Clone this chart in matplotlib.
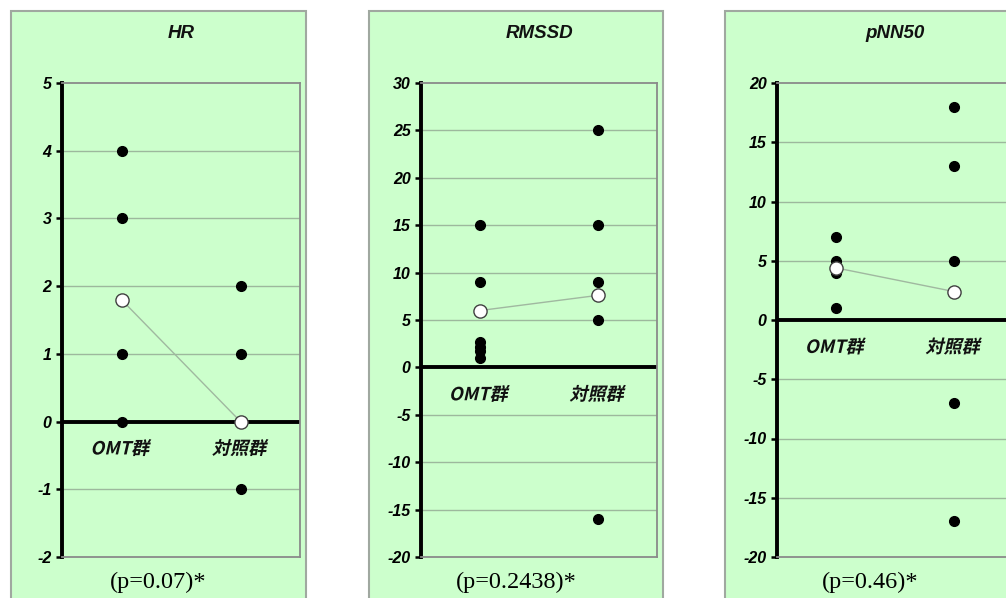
import matplotlib
matplotlib.use("Agg")
import matplotlib.pyplot as plt
from matplotlib.patches import Rectangle, PathPatch
from matplotlib.textpath import TextPath
from matplotlib.font_manager import FontProperties
from matplotlib.transforms import Affine2D, ScaledTranslation

categories = ["OMT群", "対照群"]
titles = ["HR", "RMSSD", "pNN50"]
p_labels = ["(p=0.07)*", "(p=0.2438)*", "(p=0.46)*"]

hr_omt = [4, 3, 1, 0]
hr_ctrl = [2, 1, 0, -1]
hr_mean = [1.8, 0.0]

rmssd_omt = [15, 9, 2.7, 2.2, 1.7, 1.0]
rmssd_ctrl = [25, 15, 9, 5, -16]
rmssd_mean = [6.0, 7.6]

pnn_omt = [7, 5, 4, 1]
pnn_ctrl = [18, 13, 5, -7, -17]
pnn_mean = [4.4, 2.4]

ylims = [(-2, 5), (-20, 30), (-20, 20)]
ysteps = [1, 5, 5]

panels = [
    (hr_omt, hr_ctrl, hr_mean),
    (rmssd_omt, rmssd_ctrl, rmssd_mean),
    (pnn_omt, pnn_ctrl, pnn_mean),
]

W, H = 1006, 598
DPI = 100
fig = plt.figure(figsize=(W / DPI, H / DPI), dpi=DPI)
fig.patch.set_facecolor("white")

green = "#CCFFCC"
boxes = [(11, 306), (369, 663), (725, 1010)]
axes_px = [(62, 238), (421, 236), (777, 236)]
p_x = [158, 516, 870]
ax_top, ax_bot = 83, 557

sans = ["Liberation Sans", "Noto Sans CJK JP"]
cjk_bold = FontProperties(family="Noto Sans CJK JP", weight="bold")


def skewed_label(ax, text, x, y, dy_px, size_pt, skew=13):
    tp = TextPath((0, 0), text, size=size_pt, prop=cjk_bold)
    ext = tp.get_extents()
    cx = (ext.x0 + ext.x1) / 2
    cy = (ext.y0 + ext.y1) / 2
    tr = (Affine2D().translate(-cx, -cy).skew_deg(skew, 0).scale(DPI / 72.0)
          .translate(0, -dy_px) + ScaledTranslation(x, y, ax.transData))
    patch = PathPatch(tp, transform=tr, facecolor="#111111", edgecolor="none",
                      zorder=6, clip_on=False)
    ax.add_artist(patch)


for i, ((omt, ctrl, mean), (bx0, bx1), (axl, axw)) in enumerate(zip(panels, boxes, axes_px)):
    rect = Rectangle((bx0 / W, -0.05), (bx1 - bx0) / W, (H - 11) / H + 0.05,
                     transform=fig.transFigure, facecolor=green,
                     edgecolor="#A0A8A0", linewidth=1.5, zorder=-5)
    fig.patches.append(rect)
    ax = fig.add_axes([axl / W, (H - ax_bot) / H, axw / W, (ax_bot - ax_top) / H])
    ax.set_zorder(2)
    ax.set_facecolor(green)
    lo, hi = ylims[i]
    ax.set_xlim(-0.5, 1.5)
    ax.set_ylim(lo, hi)
    ticks = list(range(lo, hi + 1, ysteps[i]))
    ax.set_yticks(ticks)
    ax.set_yticklabels([str(t) for t in ticks],
                       fontdict=dict(family=sans, weight="bold", style="italic", size=11.5))
    ax.set_xticks([])
    for t in ticks:
        if t not in (lo, hi, 0):
            ax.axhline(t, color="#9DB89D", linewidth=1, zorder=1)
    ax.axhline(0, color="black", linewidth=2.8, zorder=2)
    ax.spines["left"].set_linewidth(2.8)
    ax.spines["left"].set_color("black")
    for s in ("top", "right", "bottom"):
        ax.spines[s].set_color("#8A8A8A")
        ax.spines[s].set_linewidth(1.3)
    ax.tick_params(axis="y", direction="out", length=4.5, width=1.8, color="black", pad=3)
    ax.plot([0] * len(omt), omt, "o", color="black", markersize=7, zorder=4)
    ax.plot([1] * len(ctrl), ctrl, "o", color="black", markersize=7, zorder=4)
    ax.plot([0, 1], mean, "-", color="#A0B8A0", linewidth=1, zorder=3)
    ax.plot([0, 1], mean, "o", markerfacecolor="white", markeredgecolor="#404040",
            markeredgewidth=1, markersize=9.5, linestyle="none", zorder=5)
    for xi, cat in enumerate(categories):
        skewed_label(ax, cat, xi, 0, 26, 13)
    fig.text((axl + axw / 2) / W, (H - 33) / H, titles[i], ha="center", va="center",
             family=sans, weight="bold", style="italic", size=13.5, color="#111111")
    fig.text(p_x[i] / W, (H - 582) / H, p_labels[i],
             ha="center", va="center", family="Liberation Serif", size=17.5)

fig.savefig("out.png", dpi=DPI)
